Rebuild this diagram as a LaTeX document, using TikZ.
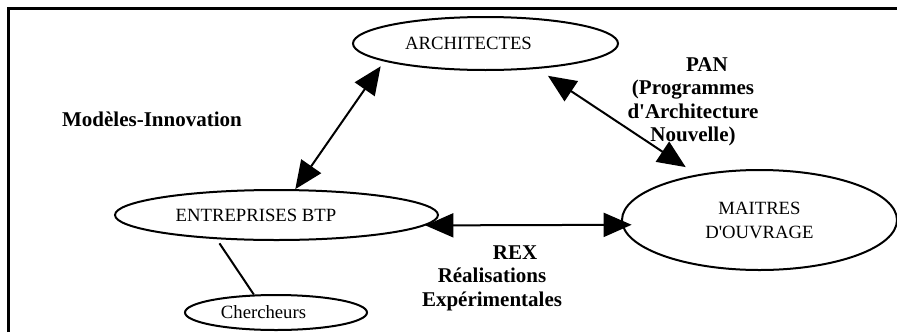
\documentclass[tikz,border=0pt]{standalone}
\usepackage{fontspec}
\setmainfont{Liberation Serif}
\usetikzlibrary{arrows.meta,shapes.geometric}

\begin{document}
\begin{tikzpicture}[x=0.5pt,y=-0.5pt,
  acteur/.style={ellipse,draw,line width=1pt,inner sep=0pt,align=center,font=\fontsize{9.35}{12}\selectfont},
  fleche/.style={line width=1pt,{Triangle[length=14pt,width=12pt]}-{Triangle[length=14pt,width=12pt]}},
  titre/.style={align=center,font=\fontsize{10.5}{11.75}\selectfont\bfseries}]
\useasboundingbox (0,0) rectangle (897,332);
\draw[line width=1.3pt] (8.5,332) -- (8.5,8.5) -- (897,8.5);
% les acteurs
\node[acteur,minimum width=132.5pt,minimum height=26.5pt] (archi) at (485.5,43.5) {ARCHITECTES\hspace*{17pt}};
\node[acteur,minimum width=161.5pt,minimum height=25pt] (entre) at (276.5,215) {ENTREPRISES BTP\hspace*{20.5pt}};
\node[acteur,minimum width=137.5pt,minimum height=50pt] (maitres) at (759.5,220) {MAITRES\\D\textquotesingle OUVRAGE};
\node[acteur,minimum width=91pt,minimum height=17.5pt] (cherch) at (276,312.5) {Chercheurs\hspace*{12.5pt}};
% les liens
\draw[fleche,shorten >=3pt] (entre.54) -- (archi.190);
\draw[fleche,shorten <=6.3pt,shorten >=6.7pt] (archi.-26) -- (maitres.144);
\draw[fleche,shorten >=-5pt] (entre.-4) -- (maitres.182);
\draw[line width=1pt,shorten <=2.5pt] (entre.202) -- (cherch.141);
% les programmes
\node[titre,anchor=base] (modeles) at (152,126) {Modèles-Innovation};
\node[titre] (pan) at (693,102) {\hspace*{14pt}PAN\\(Programmes\\d\textquotesingle Architecture\\Nouvelle)};
\node[titre] (rex) at (492,278) {\hspace*{23pt}REX\\Réalisations\\Expérimentales};
\end{tikzpicture}
\end{document}
